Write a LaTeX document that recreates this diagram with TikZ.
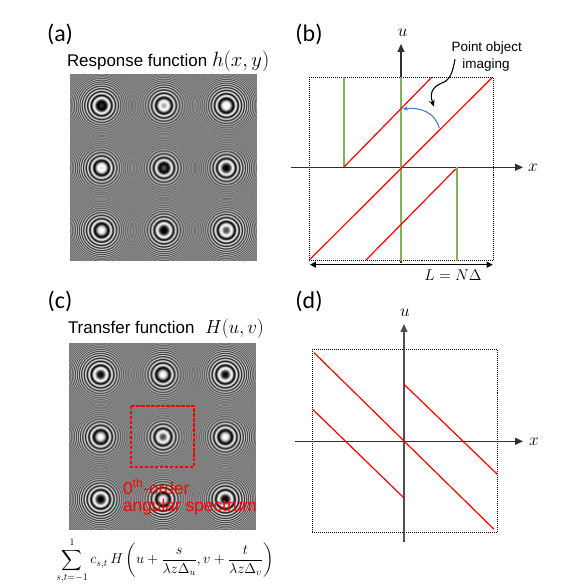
\documentclass[tikz,border=0pt]{standalone}
\usepackage{amsmath}
\usepackage{fontspec}
\setmainfont{Liberation Sans}
\newfontfamily\carl{Carlito}
\usetikzlibrary{arrows.meta}

% ---- box-filtered chirp rasters, computed in TeX, written as inline grey images
\newcount\py \newcount\px \newcount\sumv \newcount\ca \newcount\tphi \newcount\kk
\def\sincv#1{\ifcase#1 1000\or 999\or 997\or 993\or 987\or 980\or 971\or 961\or 949\or 935\or 921\or 905\or 887\or 868\or 848\or 827\or 805\or 781\or 757\or 731\or 705\or 678\or 651\or 622\or 594\or 564\or 535\or 505\or 474\or 444\or 413\or 383\fi}
\kk=0
\loop\ifnum\kk<186
  \ca=\numexpr(\kk+31)/62-1\relax
  \expandafter\edef\csname T\the\kk\endcsname{\the\ca}%
  \ca=\numexpr\kk-62*\ca-31\relax
  \expandafter\edef\csname S\the\kk\endcsname{\the\numexpr4*\ca*\ca\relax}%
  \ifnum\ca<0 \ca=-\ca\fi
  \expandafter\edef\csname A\the\kk\endcsname{\the\numexpr\sincv\ca*(1000-650*(\ca*\ca)/961*(\ca*\ca)/961)/1000\relax}%
  \advance\kk 1
\repeat
\def\hx#1{\ifcase\numexpr#1\relax 0\or 1\or 2\or 3\or 4\or 5\or 6\or 7\or 8\or 9\or A\or B\or C\or D\or E\or F\fi}
\def\gen#1{%
  \gdef\allrows{}%
  \py=0
  \loop\ifnum\py<186
    \edef\yS{\csname S\the\py\endcsname}%
    \edef\yA{\csname A\the\py\endcsname}%
    \edef\jt{\csname T\the\py\endcsname}%
    \def\row{}%
    \px=0
    \genrow
    \xdef\allrows{\allrows\row}%
    \advance\py 1
  \repeat
  \global\expandafter\let\csname img#1\endcsname\allrows}
\def\genrow{%
  \ifnum\px<186
    \tphi=\csname P\csname T\the\px\endcsname\jt\endcsname\relax
    \ca=\numexpr\csname S\the\px\endcsname+\yS+\tphi\relax
    \ca=\numexpr\ca-(\ca/360)*360\relax
    \ifnum\ca<0 \ca=-\ca\fi
    \ca=\numexpr\ca*4/45\relax
    \sumv=\ifcase\ca 125\or 123\or 115\or 104\or 88\or 70\or 48\or 24\or 0\or -24\or -48\or -70\or -88\or -104\or -115\or -123\or -125\fi\relax
    \sumv=\numexpr128+\sumv*\csname A\the\px\endcsname/1000*\yA/1000\relax
    \edef\row{\row\hx{(\sumv-8)/16}\hx{\sumv-16*((\sumv-8)/16)}}%
    \advance\px 1
    \expandafter\genrow
  \fi}
\def\setP#1#2#3{\expandafter\def\csname P#1#2\endcsname{#3}}
% panel (a): phase of each tile, in degrees
\setP00{126}\setP10{288}\setP20{342}
\setP01{324}\setP11{108}\setP21{180}
\setP02{0}\setP12{171}\setP22{243}
\gen{A}
% panel (c)
\setP00{198}\setP10{0}\setP20{198}
\setP01{0}\setP11{243}\setP21{0}
\setP02{180}\setP12{0}\setP22{180}
\gen{C}
\def\putimg#1{\hbox to 186bp{\special{pdf:content q 186 0 0 186 0 0 cm BI /W 186 /H 186 /BPC 8 /CS /G /F /AHx ID #1> EI Q}\hss\vrule width 0pt height 186bp depth 0pt}}

\newcommand{\fsz}[1]{\fontsize{#1}{#1}\selectfont}
\definecolor{grn}{HTML}{84B25A}
\definecolor{blu}{HTML}{4A7CC8}
\definecolor{ax}{HTML}{303030}
\tikzset{
  txt/.style={inner sep=0pt,outer sep=0pt},
  tag/.style={txt,anchor=center,font=\carl\fsz{24}},
  box/.style={draw=black,line width=1pt,dash pattern=on 1pt off 1pt},
  axis/.style={draw=ax,line width=1.1pt,-{Triangle[length=8pt,width=7pt]}},
  redl/.style={draw=red,line width=1.2pt},
  grnl/.style={draw=grn,line width=1.5pt},
}
\begin{document}
\begin{tikzpicture}[x=1bp,y=-1bp]
\useasboundingbox (0,0) rectangle (570,588);

% ---------- (a)
\node[tag] (la) at (60,34) {(a)};
\node[txt,anchor=base west,font=\fsz{17}] (ta) at (67,67) {Response function};
\node[txt,anchor=base west,font=\fsz{17},scale=1.2] (tb) at (212,67) {$h(x,y)$};
\node[txt,anchor=north west] (ima) at (70,74.5) {\putimg{\imgA}};

% ---------- (b)
\node[tag] (lb) at (309,34) {(b)};
\coordinate (b1) at (309,77.3); \coordinate (b2) at (493.7,260.7);
\draw[box] (b1) rectangle (b2);
\coordinate (bxl) at (290.7,167.3); \coordinate (bxr) at (523,167.3);
\coordinate (bub) at (401,263);   \coordinate (but) at (401,44);
\draw[axis] (bxl) -- (bxr);
\draw[axis] (bub) -- (but);
\coordinate (g1t) at (344,77.3); \coordinate (g1b) at (344,167.3);
\coordinate (g2t) at (401,77.3); \coordinate (g2b) at (401,260.7);
\coordinate (g3t) at (457,167.3);  \coordinate (g3b) at (457,260.7);
\draw[grnl] (g1t) -- (g1b);
\draw[grnl] (g2t) -- (g2b);
\draw[grnl] (g3t) -- (g3b);
\coordinate (r1a) at (343.7,167.3); \coordinate (r1b) at (431,78);
\coordinate (r2a) at (310,259.3);   \coordinate (r2b) at (492,77.7);
\coordinate (r3a) at (366,260);     \coordinate (r3b) at (455.7,169);
\draw[redl] (r1a) -- (r1b);
\draw[redl] (r2a) -- (r2b);
\draw[redl] (r3a) -- (r3b);
\coordinate (ar1) at (439.3,128.3); \coordinate (ar2) at (402.7,109);
\draw[draw=blu,line width=1.1pt,-{Stealth[length=5pt,width=4.5pt]}] (ar1) .. controls (435,112) and (420,107) .. (ar2);
\node[txt,font=\fsz{13.5}] (po1) at (486.7,48) {Point object};
\node[txt,font=\fsz{13.5}] (po2) at (486,65) {imaging};
\coordinate (sq1) at (455,59.3); \coordinate (sqm) at (445,81.7); \coordinate (sq2) at (434,106.7);
\draw[black,line width=1.1pt] (sq1) .. controls (453,70) and (451,78) .. (sqm);
\draw[black,line width=1.1pt,-{Stealth[length=7pt,width=6pt,inset=2.5pt]}] (sqm) .. controls (436,85) and (428,90) .. (sq2);
\coordinate (da) at (310,264.7); \coordinate (db) at (492.7,264.7);
\draw[black,line width=1.1pt,{Triangle[length=6pt,width=6pt]}-{Triangle[length=6pt,width=6pt]}] (da) -- (db);
\node[txt,font=\fsz{15},scale=1.08] (ln) at (453,275.5) {$L=N\Delta$};
\node[txt,font=\fsz{18}] (bu) at (402.7,33) {$u$};
\node[txt,font=\fsz{18}] (bx) at (533,168) {$x$};

% ---------- (c)
\node[tag] (lc) at (60,301) {(c)};
\node[txt,anchor=base west,font=\fsz{17}] (tc) at (68,333) {Transfer function};
\node[txt,anchor=base west,font=\fsz{17},scale=1.1] (hc) at (205,333) {$H(u,v)$};
\node[txt,anchor=north west] (imc) at (69.5,343.5) {\putimg{\imgC}};
\coordinate (c1) at (131,406); \coordinate (c2) at (194,467);
\draw[draw=red,line width=1.2pt,dash pattern=on 3.5pt off 1.5pt] (c1) rectangle (c2);
\node[txt,anchor=base west,red,font=\fsz{17.4}] (o1) at (123,494) {0\textsuperscript{th}-order};
\node[txt,anchor=base west,red,font=\fsz{17.4}] (o2) at (123,511) {angular spectrum};
\node[txt,font=\fsz{14}] (eq) at (165,561) {$\displaystyle\sum_{s,t=-1}^{1} c_{s,t}\,H\left(u+\frac{s}{\lambda z\Delta_u},v+\frac{t}{\lambda z\Delta_v}\right)$};

% ---------- (d)
\node[tag] (ld) at (309,301) {(d)};
\coordinate (d1) at (312,349.3); \coordinate (d2) at (497.3,532.3);
\draw[box] (d1) rectangle (d2);
\coordinate (dxl) at (295,441.3); \coordinate (dxr) at (523,441.3);
\coordinate (dub) at (404,542.3); \coordinate (dut) at (404,324);
\draw[axis] (dxl) -- (dxr);
\draw[axis,line width=1.4pt,draw=ax!85] (dub) -- (dut);
\coordinate (s1a) at (314,352.7); \coordinate (s1b) at (494,529.3);
\coordinate (s2a) at (312.3,409); \coordinate (s2b) at (404,498);
\coordinate (s3a) at (404,384.3); \coordinate (s3b) at (497.3,474.3);
\draw[redl] (s1a) -- (s1b);
\draw[redl] (s2a) -- (s2b);
\draw[redl] (s3a) -- (s3b);
\node[txt,font=\fsz{18}] (du) at (405,313) {$u$};
\node[txt,font=\fsz{18}] (dx) at (534,442) {$x$};
\end{tikzpicture}
\end{document}
